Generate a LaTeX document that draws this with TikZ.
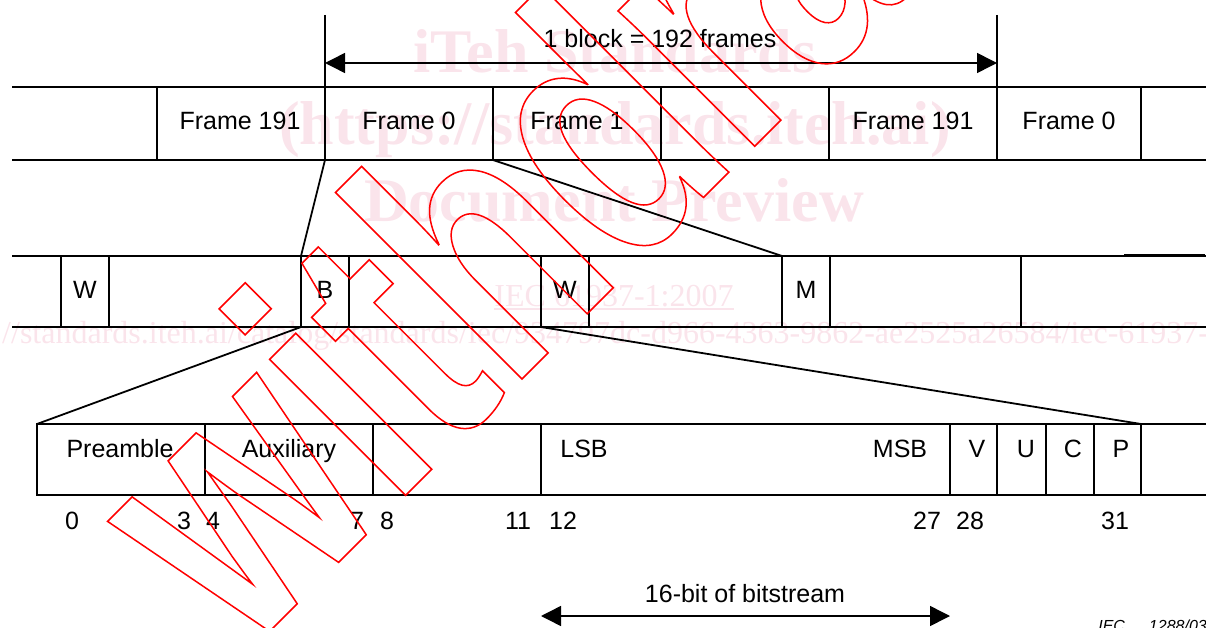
\documentclass[tikz,border=0pt]{standalone}
\usepackage{fontspec}
\setmainfont{Liberation Sans}
\newfontfamily\wmserif{Liberation Serif}
\newfontfamily\wdfont[FakeStretch=0.74]{Liberation Sans Bold}
\usetikzlibrary{arrows.meta}
\definecolor{wmpink}{RGB}{250,228,235}
\begin{document}
\begin{tikzpicture}[x=1pt,y=-1pt,
  cell/.style={draw, line width=1.5pt, inner sep=0pt, outer sep=0pt, minimum height=71pt},
  tallcell/.style={cell, minimum height=73pt},
  ln/.style={line width=1.5pt},
  zoomline/.style={line width=1.8pt},
  lbl/.style={inner sep=0pt, anchor=base, font=\fontsize{25}{30}\selectfont},
  dimarrow/.style={line width=1.5pt, {Triangle[length=20pt,width=20pt]}-{Triangle[length=20pt,width=20pt]}},
  wm/.style={text=wmpink, inner sep=0pt, anchor=base},
  wmbig/.style={wm, font=\wmserif\bfseries\fontsize{62}{62}\selectfont},
  wmsmall/.style={wm, font=\wmserif\fontsize{32}{32}\selectfont}
]
\useasboundingbox (0,0) rectangle (1206,628);

% ---------- watermark (pink) ----------
\node[wmbig] (wm1) at (615,73) {iTeh Standards};
\node[wmbig] (wm2) at (615,145) {(https://standards.iteh.ai)};
\node[wmbig] (wm3) at (614,222) {Document Preview};
\node[wmsmall] (wm4) at (614,306) {IEC 61937-1:2007};
\draw[wmpink, line width=1.2pt] ([yshift=-3pt]wm4.base west) -- ([yshift=-3pt]wm4.base east);
\node[wmsmall, anchor=base west] (wm5) at (2,343) {\llap{https:}//standards.iteh.ai/catalog/standards/iec/934797dc-d966-4363-9862-ae2525a26584/iec-61937-1-2007};

% ---------- row 1: frames ----------
\node[tallcell, minimum width=168pt] (f191) at (241,123.5) {};
\node[tallcell, minimum width=168pt] (f0)   at (409,123.5) {};
\node[tallcell, minimum width=168pt] (f1)   at (577,123.5) {};
\node[tallcell, minimum width=168pt] (fx)   at (745,123.5) {};
\node[tallcell, minimum width=168pt] (f191b) at (913,123.5) {};
\node[tallcell, minimum width=144pt] (f0b)  at (1069,123.5) {};
\coordinate (r1lt) at (12,87);   \coordinate (r1lb) at (12,160);
\coordinate (r1rt) at (1206,87); \coordinate (r1rb) at (1206,160);
\draw[ln] (r1lt) -- (f191.north west);
\draw[ln] (r1lb) -- (f191.south west);
\draw[ln] (f0b.north east) -- (r1rt);
\draw[ln] (f0b.south east) -- (r1rb);
\node[lbl] at (240,130) {Frame 191};
\node[lbl] at (409,130) {Frame 0};
\node[lbl] at (577,130) {Frame 1};
\node[lbl] at (913,130) {Frame 191};
\node[lbl] at (1069,130) {Frame 0};

% block dimension
\coordinate (tl) at (325,15);
\coordinate (tr) at (997,15);
\coordinate (al) at (325,63);
\coordinate (ar) at (997,63);
\draw[ln] (tl) -- (f0.north west);
\draw[ln] (tr) -- (f0b.north west);
\draw[dimarrow] (al) -- (ar);
\node[lbl] (blk) at (660,48) {1 block = 192 frames};

% ---------- row 2: subframes ----------
\node[cell, minimum width=48pt]  (w1) at (85,291.5) {};
\node[cell, minimum width=192pt] (s1) at (205,291.5) {};
\node[cell, minimum width=48pt]  (b)  at (325,291.5) {};
\node[cell, minimum width=192pt] (s2) at (445,291.5) {};
\node[cell, minimum width=48pt]  (w2) at (565,291.5) {};
\node[cell, minimum width=193pt] (s3) at (685.5,291.5) {};
\node[cell, minimum width=48pt]  (m)  at (806,291.5) {};
\node[cell, minimum width=191pt] (s4) at (925.5,291.5) {};
\coordinate (r2lt) at (12,256);   \coordinate (r2lb) at (12,327);
\coordinate (r2rt) at (1206,256); \coordinate (r2rb) at (1206,327);
\draw[ln] (r2lt) -- (w1.north west);
\draw[ln] (r2lb) -- (w1.south west);
\draw[ln] (s4.north east) -- (r2rt);
\draw[ln] (s4.south east) -- (r2rb);
\coordinate (thk1) at (1124,255.5); \coordinate (thk2) at (1205,255.5);
\draw[line width=2.6pt] (thk1) -- (thk2);
\node[lbl] at (85,298) {W};
\node[lbl] at (325,298) {B};
\node[lbl] at (565,298) {W};
\node[lbl] at (806,298) {M};

% zoom lines row1 -> row2
\draw[zoomline] (f0.south west) -- (b.north west);
\draw[zoomline] (f1.south west) -- (m.north west);

% ---------- row 3: bits ----------
\node[cell, minimum width=168pt] (pre)  at (121,459.5) {};
\node[cell, minimum width=168pt] (aux)  at (289,459.5) {};
\node[cell, minimum width=168pt] (e8)   at (457,459.5) {};
\node[cell, minimum width=409pt] (data) at (745.5,459.5) {};
\node[cell, minimum width=47pt]  (v)    at (973.5,459.5) {};
\node[cell, minimum width=49pt]  (u)    at (1021.5,459.5) {};
\node[cell, minimum width=48pt]  (c)    at (1070,459.5) {};
\node[cell, minimum width=47pt]  (p)    at (1117.5,459.5) {};
\coordinate (r3rt) at (1206,424); \coordinate (r3rb) at (1206,495);
\draw[ln] (p.north east) -- (r3rt);
\draw[ln] (p.south east) -- (r3rb);
\node[lbl] at (120,457) {Preamble};
\node[lbl] at (289,457) {Auxiliary};
\node[lbl] at (584,457) {LSB};
\node[lbl] at (900,457) {MSB};
\node[lbl] at (977,457) {V};
\node[lbl] at (1026,457) {U};
\node[lbl] at (1073,457) {C};
\node[lbl] at (1121,457) {P};

% zoom lines row2 -> row3
\draw[zoomline] (b.south west) -- (pre.north west);
\draw[zoomline] (w2.south west) -- (p.north east);

% bit numbers
\node[lbl] at (72,529) {0};
\node[lbl] at (184,529) {3};
\node[lbl] at (213,529) {4};
\node[lbl] at (357,529) {7};
\node[lbl] at (387,529) {8};
\node[lbl] at (518,529) {11};
\node[lbl] at (563,529) {12};
\node[lbl] at (927,529) {27};
\node[lbl] at (970,529) {28};
\node[lbl] at (1115,529) {31};

% 16-bit dimension
\coordinate (bl) at (541,616);
\coordinate (br) at (950,616);
\draw[dimarrow] (bl) -- (br);
\node[lbl] (bits) at (745,602) {16-bit of bitstream};

% figure reference
\node[inner sep=0pt, anchor=base east, font=\itshape\fontsize{16}{16}\selectfont] (iec) at (1207,631) {IEC\hspace{24pt}1288/03};

% ---------- watermark (red outline) ----------
\node[rotate=45, anchor=base west, inner sep=0pt, text=red] (wd) at (244,657)
  {\special{pdf:literal direct 1 Tr 1.5 w 1 0 0 RG}\wdfont\fontsize{364}{364}\selectfont withdrawn\special{pdf:literal direct 0 Tr}};
\end{tikzpicture}
\end{document}
